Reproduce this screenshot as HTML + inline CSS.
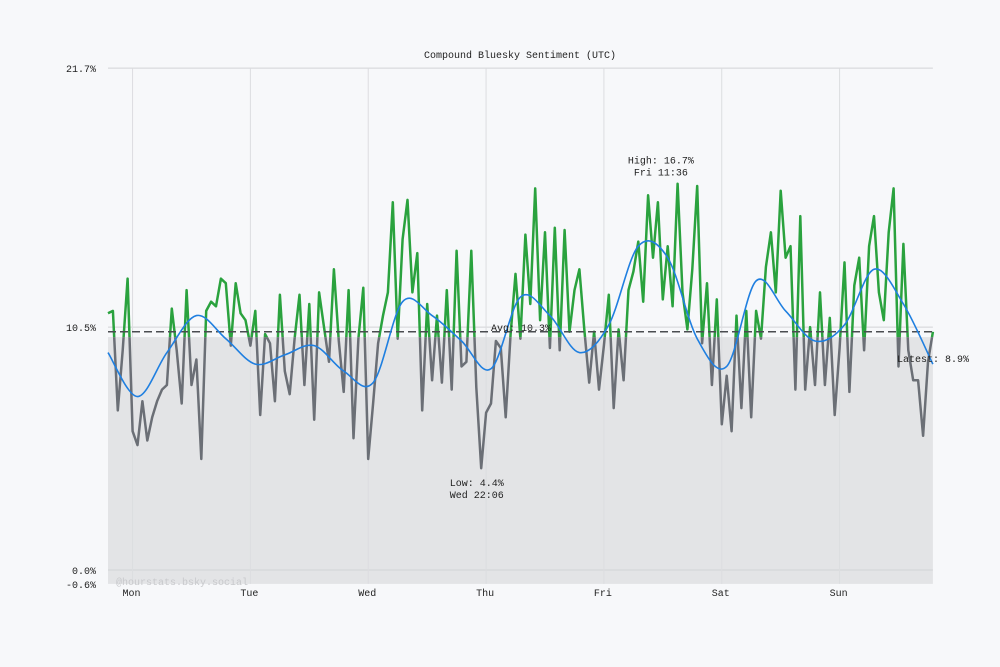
<!DOCTYPE html>
<html><head><meta charset="utf-8"><style>
html,body{margin:0;padding:0;background:#f7f8fa;}
svg{display:block;font-family:"Liberation Mono",monospace;}
</style></head><body>
<svg id="chart" width="1000" height="667" viewBox="0 0 1000 667">
<rect x="0" y="0" width="1000" height="667" fill="#f7f8fa"/>
<text x="520" y="58" font-size="10" text-anchor="middle" fill="#222">Compound Bluesky Sentiment (UTC)</text>
<g id="grid"></g>
<g id="marks"></g>
<text x="116" y="585" font-size="10" fill="#c8c9cc">@hourstats.bsky.social</text>
</svg>
<script>
const dayLabels = ["Mon","Tue","Wed","Thu","Fri","Sat","Sun"];
const yTickValues = [21.7, 10.5, 0.0, -0.6];
const yTickLabels = ["21.7%", "10.5%", "0.0%", "-0.6%"];
const sentiment = [
11.1,11.2,6.9,9.5,12.6,6.0,5.4,7.3,5.6,6.6,7.3,7.8,8.0,11.3,9.5,7.2,12.1,8.0,9.1,4.8,11.2,11.6,11.4,12.6,12.4,9.7,12.4,11.1,10.8,
9.7,11.2,6.7,10.2,9.8,7.3,11.9,8.6,7.6,10.0,11.9,8.0,11.5,6.5,12.0,10.5,9.0,13.0,9.9,7.7,12.1,5.7,10.0,12.2,
4.8,7.2,9.8,11.0,12.0,15.9,10.0,14.3,16.0,12.0,13.7,6.9,11.5,8.2,11.0,8.1,12.1,7.8,13.8,8.8,9.0,13.8,7.9,4.4,
6.8,7.2,9.9,9.6,6.6,10.2,12.8,10.0,14.5,11.5,16.5,10.8,14.6,9.6,14.8,9.5,14.7,10.3,12.1,13.0,10.4,8.1,10.3,7.8,
9.7,11.9,7.0,10.4,8.2,12.1,12.9,14.2,11.6,16.2,13.5,15.9,11.7,14.0,11.4,16.7,12.0,10.4,13.0,16.6,9.8,12.4,8.0,11.7,
6.3,8.4,6.0,11.0,7.0,11.2,6.6,11.2,10.0,13.1,14.6,12.0,16.4,13.5,14.0,7.8,15.3,7.8,10.5,8.0,12.0,8.0,10.9,6.7,
9.6,13.3,7.7,12.3,13.5,9.5,14.0,15.3,12.0,10.8,14.6,16.5,8.8,14.1,9.5,8.2,8.2,5.8,9.0,10.3
];
const trend = [9.4,7.5,9.4,11.0,10.0,8.9,9.3,9.7,8.6,8.1,11.6,11.0,9.9,8.7,11.8,11.0,9.4,10.6,14.0,13.5,10.0,8.8,12.5,11.2,9.9,10.6,13.0,11.5,8.9];
const avgValue = 10.3;
const bandTop = 10.07;
const highValue = 16.7, highIndex = 101 + 11.6;
const lowValue = 4.4, lowIndex = 53 + 22.1;
const latestLabel = "Latest: 8.9%";

const NS = "http://www.w3.org/2000/svg";
const X0 = 108, STEP = 4.91, MON = 5;
function xScale(i){ return X0 + i*STEP; }
function yScale(v){ return 570 - v*23.13; }
function mk(tag, attrs, parent){ const e=document.createElementNS(NS,tag); for(const k in attrs) e.setAttribute(k,attrs[k]); parent.appendChild(e); return e; }
const grid=document.getElementById('grid'), marks=document.getElementById('marks');
const xL = X0, xR = xScale(sentiment.length-1);

const band = mk('rect',{x:xL,y:yScale(bandTop),width:xR-xL,height:yScale(-0.6)-yScale(bandTop),fill:'#e3e4e6'},grid);


yTickValues.forEach((v,k)=>{
  if (v !== -0.6){
    const l = mk('line',{x1:xL,x2:xR,y1:yScale(v),y2:yScale(v),stroke:'#d2d3d6','stroke-width':1},grid);
    
    
  }
  const t = mk('text',{x:96,y:yScale(v)+4,'font-size':10,'text-anchor':'end',fill:'#222'},grid);
  t.textContent = yTickLabels[k];
  
  
});
dayLabels.forEach((d,k)=>{
  const x = xScale(MON + k*24);
  const l = mk('line',{x1:x,x2:x,y1:yScale(21.7),y2:yScale(-0.6),stroke:'#dcdde0','stroke-width':1},grid);
  
  
  const t = mk('text',{x:x-10,y:596,'font-size':10,fill:'#222'},grid);
  t.textContent = d;
  
  
});

const defs = mk('defs',{},marks);
const cA = mk('clipPath',{id:'above'},defs); mk('rect',{x:0,y:0,width:1000,height:yScale(bandTop)},cA);
const cB = mk('clipPath',{id:'below'},defs); mk('rect',{x:0,y:yScale(bandTop),width:1000,height:400},cB);
const pts = sentiment.map((v,i)=>xScale(i).toFixed(1)+','+yScale(v).toFixed(1)).join(' ');
const gl = mk('polyline',{points:pts,fill:'none',stroke:'#6b6f76','stroke-width':2.5,'stroke-linejoin':'round','clip-path':'url(#below)'},marks);


const gr = mk('polyline',{points:pts,fill:'none',stroke:'#2aa23e','stroke-width':2.5,'stroke-linejoin':'round','clip-path':'url(#above)'},marks);



const av = mk('line',{x1:xL,x2:xR,y1:yScale(avgValue),y2:yScale(avgValue),stroke:'#4a4c50','stroke-width':1.5,'stroke-dasharray':'8,4'},marks);



const tp = trend.map((v,k)=>[xScale(k*6), yScale(v)]);
let d = 'M'+tp[0][0]+','+tp[0][1];
for(let k=0;k<tp.length-1;k++){
  const p0=tp[Math.max(0,k-1)], p1=tp[k], p2=tp[k+1], p3=tp[Math.min(tp.length-1,k+2)];
  const c1=[p1[0]+(p2[0]-p0[0])/6, p1[1]+(p2[1]-p0[1])/6];
  const c2=[p2[0]-(p3[0]-p1[0])/6, p2[1]-(p3[1]-p1[1])/6];
  d+=' C'+c1.join(',')+' '+c2.join(',')+' '+p2.join(',');
}
const tr = mk('path',{d:d,fill:'none',stroke:'#1f7fe0','stroke-width':1.6},marks);



function label(lines,x,y,name,anchor){
  lines.forEach((s,k)=>{
    const t = mk('text',{x:x,y:y+k*12,'font-size':10,'text-anchor':anchor||'middle',fill:'#222'},marks);
    t.textContent = s;
    
    
  });
}
label(["High: "+highValue.toFixed(1)+"%","Fri 11:36"], xScale(highIndex), yScale(highValue)-20, 'high-annotation');
label(["Low: "+lowValue.toFixed(1)+"%","Wed 22:06"], xScale(lowIndex), yScale(lowValue)+18, 'low-annotation');
label(["Avg: "+avgValue.toFixed(1)+"%"], 491, yScale(avgValue)-1, 'average-label','start');
label([latestLabel], 897, 362, 'latest-label','start');
</script>
</body></html>
